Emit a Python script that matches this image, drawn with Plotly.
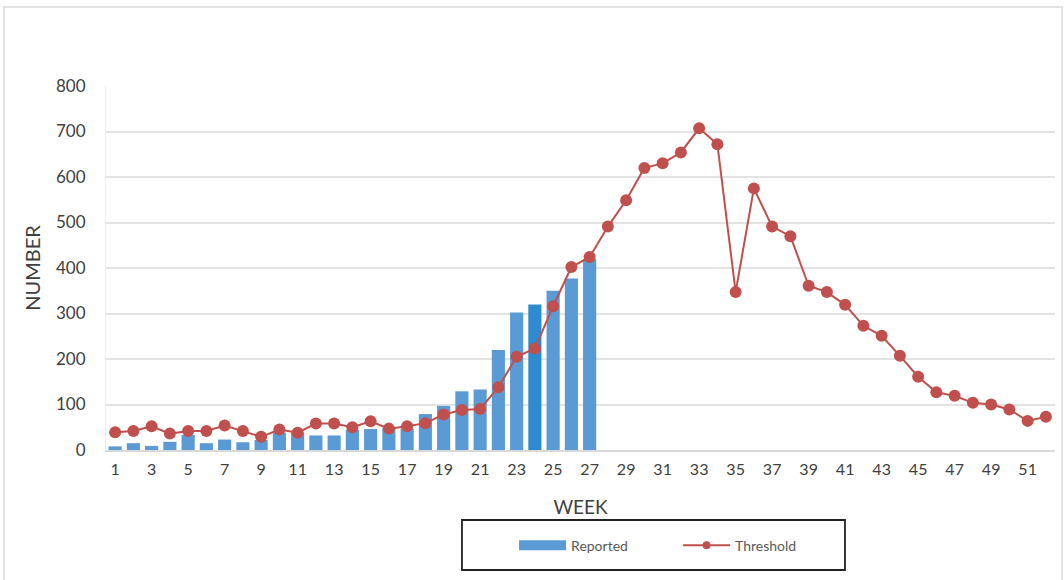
import plotly.graph_objects as go

weeks = list(range(1, 53))
reported_weeks = list(range(1, 28))
reported = [8, 15, 9, 18, 33, 15, 23, 17, 22, 38, 38, 32, 32, 44, 46, 48, 47, 79, 97, 129, 133, 220, 302, 320, 350, 377, 420]
threshold = [39, 42, 52, 36, 42, 42, 54, 42, 29, 45, 38, 58, 58, 50, 63, 47, 52, 59, 78, 88, 90, 138, 205, 223, 316,
             402, 424, 491, 549, 620, 630, 654, 707, 672, 347, 575, 491, 470, 361, 347, 319, 273, 251, 207, 161, 127,
             119, 104, 100, 89, 64, 73]
x_tick_vals = list(range(1, 53, 2))
y_tick_vals = [0, 100, 200, 300, 400, 500, 600, 700, 800]
grid_vals = [100, 200, 300, 400, 500, 600, 700]

bar_colors = ["#2f8bd0" if w == 24 else "#5b9bd5" for w in reported_weeks]

fig = go.Figure()
fig.add_trace(go.Bar(x=reported_weeks, y=reported, name="Reported", showlegend=False,
                     marker=dict(color=bar_colors, line=dict(width=0))))
fig.add_trace(go.Scatter(x=weeks, y=threshold, name="Threshold", mode="lines+markers", showlegend=False,
                         line=dict(color="#c0504d", width=2), marker=dict(color="#c0504d", size=12)))
# legend proxies (wide bar swatch, small marker on line)
fig.add_trace(go.Scatter(x=[None], y=[None], name="Reported", mode="lines",
                         line=dict(color="#5b9bd5", width=10)))
fig.add_trace(go.Scatter(x=[None], y=[None], name="Threshold", mode="lines+markers",
                         line=dict(color="#c0504d", width=2), marker=dict(color="#c0504d", size=8)))
# helper trace for the gridline axis
fig.add_trace(go.Scatter(x=[weeks[0]], y=[0], yaxis="y2", showlegend=False, hoverinfo="skip",
                         mode="markers", marker=dict(opacity=0)))

font_family = "Lato, 'Noto Sans', sans-serif"
fig.update_layout(
    width=1064, height=580,
    margin=dict(l=106, r=9, t=86, b=130),
    paper_bgcolor="white", plot_bgcolor="white",
    font=dict(family=font_family, color="#404040"),
    bargap=0.28,
    xaxis=dict(range=[0.5, 52.5], tickvals=x_tick_vals, ticks="", showgrid=False,
               showline=True, linecolor="#d9d9d9", linewidth=1.5, zeroline=False,
               tickfont=dict(size=16, color="#404040"), ticklabelstandoff=4,
               title=dict(text="WEEK", font=dict(size=19, color="#404040"), standoff=24)),
    yaxis=dict(range=[0, 800], tickvals=y_tick_vals, ticks="", showgrid=False, zeroline=False,
               showline=True, linecolor="#eeeeee", linewidth=1,
               tickfont=dict(size=17, color="#404040"), ticklabelstandoff=16,
               title=dict(text="NUMBER", font=dict(size=20, color="#404040"), standoff=10)),
    yaxis2=dict(range=[0, 800], overlaying="y", tickvals=grid_vals, showticklabels=False, ticks="",
                showgrid=True, gridcolor="#e3e3e3", gridwidth=1.5, zeroline=False, showline=False),
    legend=dict(orientation="h", x=0.43, y=-0.263, xanchor="left", yanchor="middle",
                borderwidth=0, bgcolor="rgba(0,0,0,0)", traceorder="normal",
                font=dict(size=14, color="#595959"), entrywidth=102, entrywidthmode="pixels",
                itemwidth=47),
    shapes=[
        dict(type="rect", xref="paper", yref="paper", x0=-0.1075, x1=1.0074, y0=-0.45, y1=1.217,
             line=dict(color="#d9d9d9", width=1.5), layer="below"),
        dict(type="rect", xref="paper", yref="paper", x0=0.3751, x1=0.7787, y0=-0.3297, y1=-0.1923,
             line=dict(color="#222222", width=1.8), layer="above"),
    ],
)
fig.update_layout(barmode="overlay")

fig.write_html("out.html", config={"displayModeBar": False},
               post_script="document.body.style.margin='0';document.body.style.overflow='hidden';")
